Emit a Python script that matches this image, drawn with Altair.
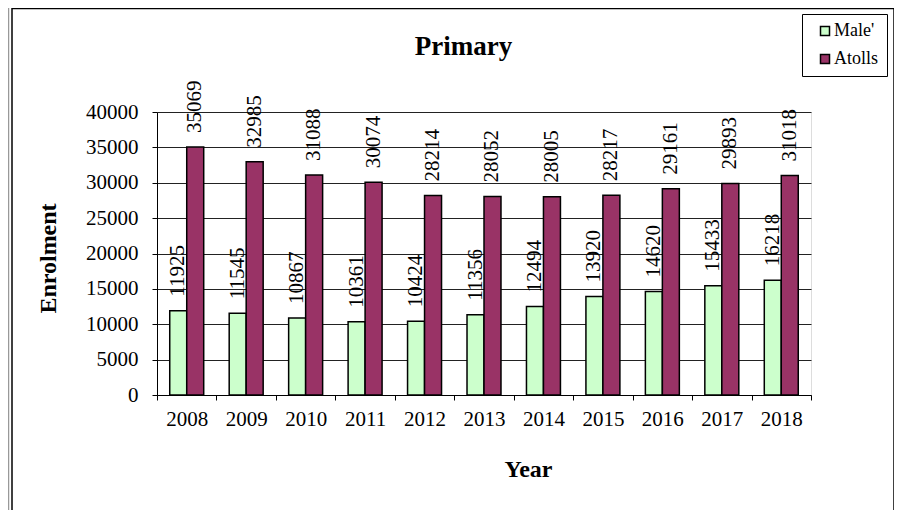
import altair as alt
import pandas as pd

title_text = ["Primary"]
years = ["2008", "2009", "2010", "2011", "2012", "2013", "2014", "2015", "2016", "2017", "2018"]
male = [11925, 11545, 10867, 10361, 10424, 11356, 12494, 13920, 14620, 15433, 16218]
atolls = [35069, 32985, 31088, 30074, 28214, 28052, 28005, 28217, 29161, 29893, 31018]
series = ["Male'", "Atolls"]
colors = ["#ccffcc", "#993366"]
y_ticks = [0, 5000, 10000, 15000, 20000, 25000, 30000, 35000, 40000]

rows = []
for i, yr in enumerate(years):
    rows.append({"Year": yr, "Series": series[0], "Enrolment": male[i]})
    rows.append({"Year": yr, "Series": series[1], "Enrolment": atolls[i]})
df = pd.DataFrame(rows)

FONT = "Liberation Serif, Times New Roman, serif"

x_enc = alt.X(
    "Year:N",
    sort=years,
    scale=alt.Scale(paddingInner=0, paddingOuter=0),
    axis=alt.Axis(
        title="Year", tickBand="extent", labelAngle=0, labelFont=FONT, labelFontSize=21,
        labelColor="black", labelPadding=8, tickSize=5, tickColor="black",
        domainColor="black", grid=False,
        titleFont=FONT, titleFontSize=24, titleFontWeight="bold", titleColor="black",
        titleX=371, titleY=81, titleBaseline="alphabetic", titleAlign="center",
    ),
)
xo_enc = alt.XOffset("Series:N", sort=series, scale=alt.Scale(paddingOuter=0.75, paddingInner=0))
y_enc = alt.Y(
    "Enrolment:Q",
    scale=alt.Scale(domain=[0, 40000], nice=False),
    axis=alt.Axis(
        title="Enrolment", values=y_ticks, tickCount=9, labelOverlap=False, format="d",
        labelFont=FONT, labelFontSize=21,
        labelColor="black", labelPadding=14, tickSize=5, tickColor="black",
        domainColor="black", grid=True, gridColor="#222222", gridWidth=1,
        titleFont=FONT, titleFontSize=24, titleFontWeight="bold", titleColor="black",
        titleAngle=270, titleX=-109, titleY=146, titleBaseline="middle", titleAlign="center",
    ),
)

base = alt.Chart(df)

bars = base.mark_bar(stroke="black", strokeWidth=1.5).encode(
    x=x_enc,
    xOffset=xo_enc,
    y=y_enc,
    color=alt.Color(
        "Series:N",
        sort=series,
        scale=alt.Scale(domain=series, range=colors),
        legend=alt.Legend(
            orient="none", legendX=645, legendY=-98, title=None,
            strokeColor="black", fillColor="white", padding=8,
            symbolType="square", symbolSize=81, symbolStrokeColor="black",
            symbolStrokeWidth=1.5, symbolOffset=6, labelFont=FONT, labelFontSize=18,
            labelColor="black", rowPadding=10, labelOffset=0,
        ),
    ),
)

labels = base.mark_text(
    angle=270, align="left", baseline="middle", dx=14, font=FONT, fontSize=21, color="black"
).encode(
    x=x_enc,
    xOffset=xo_enc,
    y=y_enc,
    text=alt.Text("Enrolment:Q", format="d"),
)

title_mark = alt.Chart(pd.DataFrame({"t": title_text})).mark_text(
    font=FONT, fontSize=27, fontWeight="bold", color="black", align="center", baseline="alphabetic"
).encode(x=alt.value(306.5), y=alt.value(-57), text="t:N")

one = alt.Chart(pd.DataFrame({"k": [0]}))
frame_left = one.mark_rule(color="black", strokeWidth=1.5).encode(
    x=alt.value(-145), y=alt.value(-104), y2=alt.value(420))
frame_left2 = one.mark_rule(color="#999999", strokeWidth=1.5).encode(
    x=alt.value(-148.5), y=alt.value(-104), y2=alt.value(420))
frame_right = one.mark_rule(color="black", strokeWidth=1.5).encode(
    x=alt.value(737), y=alt.value(-103.5), y2=alt.value(420))
frame_top = one.mark_rule(color="black", strokeWidth=1.5).encode(
    y=alt.value(-103.5), x=alt.value(-145), x2=alt.value(737))

chart = alt.layer(frame_left2, frame_left, frame_right, frame_top, title_mark, bars, labels).properties(
    width=654,
    height=283,
    autosize=alt.AutoSizeParams(type="none"),
    padding={"left": 149, "top": 104, "right": 83, "bottom": 115},
).configure_view(
    fill="#dbe8f7", stroke="#808080", strokeWidth=1.5
).configure(
    background="white", font=FONT
).configure_text(font=FONT).configure_legend(labelFont=FONT)

chart.save("out.html", embed_options={"renderer": "svg", "actions": False})
